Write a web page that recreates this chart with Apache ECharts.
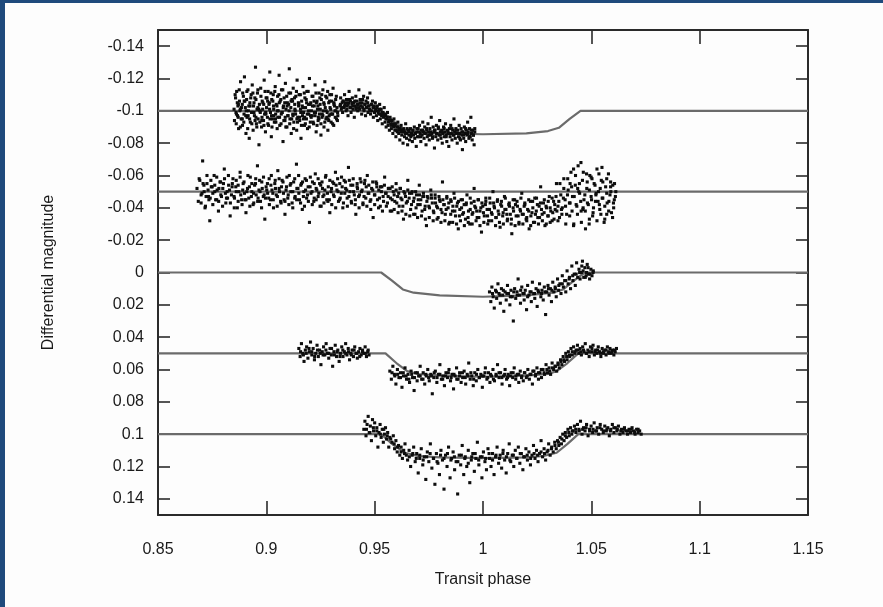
<!DOCTYPE html>
<html><head><meta charset="utf-8">
<script src="https://cdn.jsdelivr.net/npm/echarts@6/dist/echarts.min.js"></script>
<style>html,body{margin:0;padding:0;background:#fdfdfd}#c{width:883px;height:607px}</style>
</head><body><div id="c"></div>
<script>
// ---- axis ticks ----
const yTickValues = [-0.14,-0.12,-0.1,-0.08,-0.06,-0.04,-0.02,0,0.02,0.04,0.06,0.08,0.1,0.12,0.14];
const xRange = [0.85, 1.15];
const yRange = [-0.15, 0.15];

// ---- model transit curves ----
const model1 = [[0.85,-0.1],[0.953,-0.1],[0.958,-0.0945],[0.963,-0.0885],[0.968,-0.0868],[0.98,-0.086],[1.0,-0.0855],[1.02,-0.086],[1.03,-0.0875],[1.035,-0.0895],[1.04,-0.095],[1.045,-0.1],[1.15,-0.1]];
const model2 = [[0.85,-0.05],[1.15,-0.05]];
const model3 = [[0.85,0],[0.953,0],[0.958,0.005],[0.963,0.0105],[0.968,0.0125],[0.98,0.0142],[1.0,0.015],[1.02,0.0142],[1.032,0.0125],[1.037,0.0105],[1.042,0.005],[1.047,0],[1.15,0]];
const model4 = [[0.85,0.05],[0.955,0.05],[0.96,0.056],[0.965,0.061],[0.97,0.0628],[0.98,0.0638],[1.0,0.0645],[1.02,0.0638],[1.03,0.0628],[1.034,0.061],[1.039,0.056],[1.044,0.05],[1.15,0.05]];
const model5 = [[0.85,0.1],[0.953,0.1],[0.958,0.106],[0.964,0.1115],[0.97,0.1135],[0.98,0.1143],[1.0,0.1148],[1.02,0.1143],[1.028,0.1135],[1.034,0.1115],[1.039,0.106],[1.044,0.1],[1.15,0.1]];

// ---- observations (phase, differential magnitude) ----
const obs1a = [[0.8851,-0.101],[0.8853,-0.094],[0.8858,-0.108],[0.8860,-0.099],[0.8863,-0.112],[0.8867,-0.097],[0.8869,-0.103],[0.8872,-0.089],[0.8876,-0.106],[0.8878,-0.100],
[0.8881,-0.118],[0.8884,-0.095],[0.8889,-0.104],[0.8890,-0.091],[0.8894,-0.109],[0.8897,-0.098],[0.8899,-0.121],[0.8903,-0.102],[0.8906,-0.086],[0.8909,-0.107],
[0.8911,-0.096],[0.8915,-0.113],[0.8917,-0.100],[0.8921,-0.083],[0.8924,-0.105],[0.8926,-0.093],[0.8930,-0.110],[0.8932,-0.099],[0.8935,-0.116],[0.8939,-0.088],
[0.8941,-0.103],[0.8945,-0.097],[0.8947,-0.108],[0.8950,-0.127],[0.8954,-0.092],[0.8957,-0.101],[0.8959,-0.111],[0.8962,-0.095],[0.8966,-0.079],[0.8968,-0.104],
[0.8972,-0.099],[0.8974,-0.114],[0.8978,-0.090],[0.8981,-0.106],[0.8983,-0.101],[0.8987,-0.094],[0.8990,-0.119],[0.8992,-0.098],[0.8996,-0.087],[0.8999,-0.108],
[0.9001,-0.102],[0.9005,-0.096],[0.9008,-0.112],[0.9010,-0.091],[0.9014,-0.105],[0.9016,-0.124],[0.9019,-0.099],[0.9023,-0.084],[0.9025,-0.107],[0.9028,-0.095],
[0.9032,-0.110],[0.9034,-0.101],[0.9037,-0.093],[0.9041,-0.115],[0.9043,-0.098],[0.9046,-0.104],[0.9050,-0.089],[0.9052,-0.109],[0.9055,-0.100],[0.9059,-0.122],
[0.9061,-0.096],[0.9064,-0.106],[0.9068,-0.092],[0.9070,-0.113],[0.9073,-0.099],[0.9077,-0.081],[0.9079,-0.103],[0.9082,-0.108],[0.9086,-0.094],[0.9088,-0.117],
[0.9091,-0.101],[0.9095,-0.090],[0.9097,-0.105],[0.9100,-0.097],[0.9104,-0.111],[0.9106,-0.126],[0.9109,-0.095],[0.9113,-0.102],[0.9115,-0.086],[0.9118,-0.107],
[0.9122,-0.098],[0.9124,-0.114],[0.9127,-0.093],[0.9131,-0.104],[0.9133,-0.100],[0.9136,-0.109],[0.9140,-0.088],[0.9142,-0.119],[0.9145,-0.096],[0.9149,-0.103],
[0.9151,-0.110],[0.9154,-0.094],[0.9158,-0.101],[0.9160,-0.083],[0.9163,-0.106],[0.9167,-0.097],[0.9169,-0.115],[0.9172,-0.099],[0.9176,-0.091],[0.9178,-0.108],
[0.9181,-0.102],[0.9185,-0.095],[0.9187,-0.112],[0.9190,-0.089],[0.9194,-0.104],[0.9196,-0.098],[0.9199,-0.120],[0.9203,-0.093],[0.9205,-0.105],[0.9208,-0.100],
[0.9212,-0.097],[0.9215,-0.109],[0.9218,-0.092],[0.9221,-0.103],[0.9225,-0.116],[0.9227,-0.099],[0.9230,-0.087],[0.9234,-0.106],[0.9236,-0.101],[0.9239,-0.094],
[0.9243,-0.111],[0.9245,-0.098],[0.9248,-0.104],[0.9252,-0.085],[0.9254,-0.107],[0.9257,-0.096],[0.9261,-0.113],[0.9263,-0.100],[0.9266,-0.090],[0.9270,-0.118],
[0.9272,-0.102],[0.9275,-0.095],[0.9279,-0.108],[0.9281,-0.099],[0.9284,-0.088],[0.9288,-0.105],[0.9290,-0.097],[0.9293,-0.110],[0.9297,-0.101],[0.9299,-0.093],
[0.9302,-0.106],[0.9306,-0.098],[0.9308,-0.114],[0.9311,-0.091],[0.9315,-0.103],[0.9317,-0.100],[0.9320,-0.107],[0.9324,-0.095],[0.9326,-0.102],[0.9329,-0.099],
[0.8856,-0.110],[0.8861,-0.092],[0.8866,-0.105],[0.8870,-0.096],[0.8875,-0.113],[0.8880,-0.090],[0.8885,-0.102],[0.8891,-0.111],[0.8896,-0.093],[0.8901,-0.106],
[0.8905,-0.097],[0.8910,-0.112],[0.8914,-0.089],[0.8919,-0.103],[0.8923,-0.095],[0.8928,-0.108],[0.8933,-0.092],[0.8938,-0.111],[0.8943,-0.099],[0.8948,-0.094],
[0.8952,-0.107],[0.8956,-0.090],[0.8961,-0.113],[0.8965,-0.101],[0.8970,-0.093],[0.8975,-0.109],[0.8980,-0.096],[0.8984,-0.105],[0.8989,-0.091],[0.8994,-0.112],
[0.8998,-0.098],[0.9003,-0.108],[0.9007,-0.092],[0.9012,-0.104],[0.9017,-0.095],[0.9021,-0.111],[0.9026,-0.090],[0.9030,-0.106],[0.9035,-0.097],[0.9039,-0.112],
[0.9044,-0.093],[0.9049,-0.103],[0.9053,-0.096],[0.9058,-0.110],[0.9062,-0.091],[0.9067,-0.107],[0.9072,-0.099],[0.9076,-0.113],[0.9081,-0.094],[0.9085,-0.105],
[0.9090,-0.090],[0.9094,-0.109],[0.9099,-0.097],[0.9103,-0.104],[0.9108,-0.092],[0.9112,-0.111],[0.9117,-0.095],[0.9121,-0.106],[0.9126,-0.089],[0.9130,-0.108],
[0.9135,-0.098],[0.9139,-0.112],[0.9144,-0.093],[0.9148,-0.105],[0.9153,-0.096],[0.9157,-0.110],[0.9162,-0.091],[0.9166,-0.103],[0.9171,-0.095],[0.9175,-0.111],
[0.9180,-0.092],[0.9184,-0.107],[0.9189,-0.098],[0.9193,-0.112],[0.9198,-0.090],[0.9202,-0.104],[0.9207,-0.096],[0.9211,-0.109],[0.9216,-0.093],[0.9220,-0.106],
[0.9225,-0.097],[0.9229,-0.111],[0.9234,-0.091],[0.9238,-0.103],[0.9243,-0.095],[0.9247,-0.108],[0.9252,-0.092],[0.9256,-0.110],[0.9261,-0.097],[0.9265,-0.105],
[0.9270,-0.093],[0.9274,-0.109],[0.9279,-0.096],[0.9283,-0.112],[0.9288,-0.094],[0.9292,-0.106],[0.9297,-0.098],[0.9301,-0.110],[0.9306,-0.092],[0.9312,-0.105],
[0.9318,-0.096],[0.9323,-0.109],[0.9328,-0.094]];

const obs1b = [[0.9340,-0.103],[0.9343,-0.108],[0.9346,-0.101],[0.9350,-0.105],[0.9352,-0.099],[0.9355,-0.106],[0.9359,-0.102],[0.9361,-0.110],[0.9364,-0.104],[0.9368,-0.100],
[0.9370,-0.107],[0.9373,-0.103],[0.9377,-0.097],[0.9379,-0.105],[0.9382,-0.112],[0.9386,-0.102],[0.9388,-0.106],[0.9391,-0.099],[0.9395,-0.104],[0.9397,-0.108],
[0.9400,-0.101],[0.9404,-0.105],[0.9406,-0.096],[0.9409,-0.103],[0.9413,-0.109],[0.9415,-0.102],[0.9418,-0.106],[0.9422,-0.100],[0.9424,-0.104],[0.9427,-0.113],
[0.9431,-0.101],[0.9433,-0.107],[0.9436,-0.103],[0.9440,-0.098],[0.9442,-0.105],[0.9445,-0.102],[0.9449,-0.109],[0.9451,-0.100],[0.9454,-0.104],[0.9458,-0.097],
[0.9460,-0.106],[0.9463,-0.102],[0.9467,-0.108],[0.9469,-0.099],[0.9472,-0.103],[0.9476,-0.101],[0.9478,-0.111],[0.9481,-0.098],[0.9485,-0.104],[0.9487,-0.100],
[0.9490,-0.106],[0.9494,-0.096],[0.9496,-0.102],[0.9499,-0.099],[0.9503,-0.105],[0.9505,-0.101],[0.9508,-0.097],[0.9512,-0.103],[0.9514,-0.094],[0.9517,-0.100],
[0.9521,-0.098],[0.9523,-0.104],[0.9526,-0.095],[0.9530,-0.101],[0.9532,-0.097],[0.9535,-0.092],[0.9539,-0.099],[0.9541,-0.096],[0.9544,-0.102],[0.9548,-0.093],
[0.9550,-0.097],[0.9553,-0.090],[0.9557,-0.095],[0.9559,-0.099],[0.9562,-0.091],[0.9566,-0.094],[0.9568,-0.088],[0.9571,-0.096],[0.9575,-0.092],[0.9577,-0.089],
[0.9580,-0.094],[0.9584,-0.086],[0.9586,-0.091],[0.9589,-0.095],[0.9593,-0.088],[0.9595,-0.092],[0.9598,-0.084],[0.9602,-0.090],[0.9604,-0.087],[0.9607,-0.093],
[0.9611,-0.086],[0.9613,-0.089],[0.9616,-0.082],[0.9620,-0.088],[0.9622,-0.091],[0.9625,-0.085],[0.9629,-0.087],[0.9631,-0.080],[0.9634,-0.089],[0.9638,-0.084],
[0.9640,-0.087],[0.9643,-0.092],[0.9647,-0.083],[0.9649,-0.086],[0.9652,-0.079],[0.9656,-0.088],[0.9658,-0.085],[0.9661,-0.082],[0.9665,-0.089],[0.9667,-0.084],
[0.9670,-0.086],[0.9674,-0.081],[0.9676,-0.088],[0.9679,-0.085],[0.9683,-0.090],[0.9685,-0.083],[0.9688,-0.086],[0.9692,-0.078],[0.9694,-0.087],[0.9697,-0.084],
[0.9701,-0.089],[0.9704,-0.084],[0.9707,-0.091],[0.9710,-0.086],[0.9713,-0.081],[0.9716,-0.088],[0.9719,-0.085],[0.9722,-0.093],[0.9725,-0.087],[0.9728,-0.083],
[0.9731,-0.090],[0.9734,-0.086],[0.9737,-0.079],[0.9740,-0.088],[0.9743,-0.084],[0.9746,-0.092],[0.9749,-0.087],[0.9752,-0.082],[0.9755,-0.089],[0.9758,-0.085],
[0.9761,-0.096],[0.9764,-0.086],[0.9767,-0.083],[0.9770,-0.090],[0.9773,-0.087],[0.9776,-0.077],[0.9779,-0.088],[0.9782,-0.084],[0.9785,-0.091],[0.9788,-0.086],
[0.9791,-0.082],[0.9794,-0.089],[0.9797,-0.085],[0.9800,-0.094],[0.9803,-0.087],[0.9806,-0.083],[0.9809,-0.088],[0.9812,-0.080],[0.9815,-0.086],[0.9818,-0.090],
[0.9821,-0.084],[0.9824,-0.087],[0.9827,-0.092],[0.9830,-0.085],[0.9833,-0.081],[0.9836,-0.088],[0.9839,-0.086],[0.9842,-0.078],[0.9845,-0.089],[0.9848,-0.084],
[0.9851,-0.091],[0.9854,-0.086],[0.9857,-0.082],[0.9860,-0.088],[0.9863,-0.085],[0.9866,-0.095],[0.9869,-0.087],[0.9872,-0.083],[0.9875,-0.089],[0.9878,-0.086],
[0.9881,-0.080],[0.9884,-0.088],[0.9887,-0.084],[0.9890,-0.091],[0.9893,-0.086],[0.9896,-0.082],[0.9899,-0.089],[0.9902,-0.085],[0.9905,-0.076],[0.9908,-0.087],
[0.9911,-0.083],[0.9914,-0.090],[0.9917,-0.086],[0.9920,-0.081],[0.9923,-0.088],[0.9926,-0.085],[0.9929,-0.093],[0.9932,-0.087],[0.9935,-0.083],[0.9938,-0.089],
[0.9941,-0.084],[0.9944,-0.096],[0.9947,-0.086],[0.9950,-0.082],[0.9953,-0.088],[0.9956,-0.085],[0.9959,-0.079],[0.9962,-0.087]];

const obs1core = [[0.8862,-0.098],[0.8871,-0.104],[0.8880,-0.101],[0.8889,-0.095],[0.8898,-0.106],[0.8907,-0.100],[0.8916,-0.097],[0.8925,-0.103],[0.8934,-0.099],[0.8943,-0.105],
[0.8952,-0.096],[0.8961,-0.102],[0.8970,-0.100],[0.8979,-0.094],[0.8988,-0.104],[0.8997,-0.099],[0.9006,-0.106],[0.9015,-0.101],[0.9024,-0.097],[0.9033,-0.103],
[0.9042,-0.095],[0.9051,-0.100],[0.9060,-0.105],[0.9069,-0.098],[0.9078,-0.102],[0.9087,-0.096],[0.9096,-0.103],[0.9105,-0.100],[0.9114,-0.106],[0.9123,-0.097],
[0.9132,-0.101],[0.9141,-0.095],[0.9150,-0.104],[0.9159,-0.099],[0.9168,-0.102],[0.9177,-0.096],[0.9186,-0.105],[0.9195,-0.100],[0.9204,-0.097],[0.9213,-0.103],
[0.9222,-0.099],[0.9231,-0.105],[0.9240,-0.096],[0.9249,-0.101],[0.9258,-0.098],[0.9267,-0.104],[0.9276,-0.100],[0.9285,-0.095],[0.9294,-0.102],[0.9303,-0.098],
[0.9312,-0.104],[0.9321,-0.100],[0.9330,-0.097],
[0.9342,-0.104],[0.9348,-0.102],[0.9354,-0.106],[0.9360,-0.103],[0.9366,-0.105],[0.9372,-0.101],[0.9378,-0.104],[0.9384,-0.107],[0.9390,-0.102],[0.9396,-0.105],
[0.9402,-0.103],[0.9408,-0.106],[0.9414,-0.101],[0.9420,-0.104],[0.9426,-0.102],[0.9432,-0.105],[0.9438,-0.103],[0.9444,-0.107],[0.9450,-0.101],[0.9456,-0.104],
[0.9462,-0.102],[0.9468,-0.105],[0.9474,-0.103],[0.9480,-0.100],[0.9486,-0.104],[0.9492,-0.102],[0.9498,-0.103],[0.9504,-0.100],[0.9510,-0.102],[0.9516,-0.099],
[0.9522,-0.101],[0.9528,-0.098],[0.9534,-0.099],[0.9540,-0.097],[0.9546,-0.098],[0.9552,-0.095],[0.9558,-0.096],[0.9564,-0.093],[0.9570,-0.094],[0.9576,-0.091],
[0.9582,-0.092],[0.9588,-0.090],[0.9594,-0.091],[0.9600,-0.088],[0.9606,-0.090],[0.9612,-0.088],[0.9618,-0.089],[0.9624,-0.087],
[0.9632,-0.088],[0.9641,-0.086],[0.9650,-0.089],[0.9659,-0.087],[0.9668,-0.085],[0.9677,-0.088],[0.9686,-0.086],[0.9695,-0.089],[0.9704,-0.087],[0.9713,-0.084],
[0.9722,-0.088],[0.9731,-0.086],[0.9740,-0.089],[0.9749,-0.085],[0.9758,-0.087],[0.9767,-0.084],[0.9776,-0.088],[0.9785,-0.086],[0.9794,-0.090],[0.9803,-0.085],
[0.9812,-0.087],[0.9821,-0.089],[0.9830,-0.084],[0.9839,-0.087],[0.9848,-0.086],[0.9857,-0.089],[0.9866,-0.085],[0.9875,-0.088],[0.9884,-0.086],[0.9893,-0.083],
[0.9902,-0.087],[0.9911,-0.085],[0.9920,-0.089],[0.9929,-0.086],[0.9938,-0.084],[0.9947,-0.088],[0.9956,-0.085],[0.9962,-0.089]];

const obs2 = [[0.8680,-0.052],[0.8686,-0.044],[0.8693,-0.057],[0.8699,-0.048],[0.8706,-0.069],[0.8713,-0.050],[0.8719,-0.041],[0.8726,-0.055],[0.8733,-0.047],[0.8739,-0.032],
[0.8746,-0.053],[0.8753,-0.049],[0.8759,-0.060],[0.8766,-0.045],[0.8773,-0.051],[0.8779,-0.038],[0.8786,-0.056],[0.8793,-0.047],[0.8799,-0.052],[0.8806,-0.064],
[0.8813,-0.043],[0.8819,-0.050],[0.8826,-0.054],[0.8833,-0.035],[0.8839,-0.048],[0.8846,-0.058],[0.8853,-0.046],[0.8859,-0.053],[0.8866,-0.040],[0.8873,-0.050],
[0.8879,-0.062],[0.8886,-0.045],[0.8893,-0.055],[0.8899,-0.049],[0.8906,-0.037],[0.8913,-0.052],[0.8919,-0.046],[0.8926,-0.059],[0.8933,-0.050],[0.8939,-0.042],
[0.8946,-0.054],[0.8953,-0.048],[0.8959,-0.066],[0.8966,-0.051],[0.8973,-0.044],[0.8979,-0.056],[0.8986,-0.047],[0.8993,-0.033],[0.8999,-0.053],
[0.9006,-0.049],[0.9013,-0.058],[0.9019,-0.045],[0.9026,-0.051],[0.9033,-0.040],[0.9039,-0.055],[0.9046,-0.048],[0.9053,-0.063],[0.9059,-0.052],[0.9066,-0.044],
[0.9073,-0.057],[0.9079,-0.049],[0.9086,-0.036],[0.9093,-0.053],[0.9099,-0.046],[0.9106,-0.060],[0.9113,-0.050],[0.9119,-0.043],[0.9126,-0.056],[0.9133,-0.047],
[0.9139,-0.067],[0.9146,-0.052],[0.9153,-0.045],[0.9159,-0.054],[0.9166,-0.039],[0.9173,-0.050],[0.9179,-0.058],[0.9186,-0.046],[0.9193,-0.053],[0.9199,-0.031],
[0.9206,-0.049],[0.9213,-0.056],[0.9219,-0.044],[0.9226,-0.061],[0.9233,-0.051],[0.9239,-0.047],[0.9246,-0.055],[0.9253,-0.041],[0.9259,-0.052],[0.9266,-0.048],
[0.9273,-0.059],[0.9279,-0.045],[0.9286,-0.053],[0.9293,-0.037],[0.9299,-0.050],
[0.9306,-0.056],[0.9313,-0.047],[0.9319,-0.062],[0.9326,-0.051],[0.9333,-0.044],[0.9339,-0.055],[0.9346,-0.049],[0.9353,-0.040],[0.9359,-0.057],[0.9366,-0.052],
[0.9373,-0.046],[0.9379,-0.065],[0.9386,-0.050],[0.9393,-0.043],[0.9399,-0.054],[0.9406,-0.048],[0.9413,-0.036],[0.9419,-0.053],[0.9426,-0.047],[0.9433,-0.058],
[0.9439,-0.050],[0.9446,-0.042],[0.9453,-0.055],[0.9459,-0.046],[0.9466,-0.060],[0.9473,-0.049],[0.9479,-0.044],[0.9486,-0.052],[0.9493,-0.034],[0.9499,-0.048],
[0.9506,-0.056],[0.9513,-0.045],[0.9519,-0.051],[0.9526,-0.041],[0.9533,-0.053],[0.9539,-0.047],[0.9546,-0.059],[0.9553,-0.049],[0.9559,-0.043],[0.9566,-0.052],
[0.9573,-0.046],[0.9579,-0.038],[0.9586,-0.050],[0.9593,-0.044],
[0.9599,-0.055],[0.9606,-0.047],[0.9613,-0.041],[0.9619,-0.052],[0.9626,-0.045],[0.9633,-0.033],[0.9639,-0.049],[0.9646,-0.043],[0.9653,-0.057],[0.9659,-0.046],
[0.9666,-0.039],[0.9673,-0.050],[0.9679,-0.044],[0.9686,-0.036],[0.9693,-0.048],[0.9699,-0.042],[0.9706,-0.054],[0.9713,-0.045],[0.9719,-0.038],[0.9726,-0.047],
[0.9733,-0.041],[0.9739,-0.029],[0.9746,-0.046],[0.9753,-0.040],[0.9759,-0.051],[0.9766,-0.043],[0.9773,-0.037],[0.9779,-0.048],[0.9786,-0.041],[0.9793,-0.034],
[0.9799,-0.045],[0.9806,-0.039],[0.9813,-0.056],[0.9819,-0.042],[0.9826,-0.036],[0.9833,-0.047],[0.9839,-0.040],[0.9846,-0.031],
[0.9853,-0.044],[0.9859,-0.038],[0.9866,-0.049],[0.9873,-0.035],[0.9879,-0.041],[0.9886,-0.027],[0.9893,-0.039],[0.9899,-0.045],[0.9906,-0.036],[0.9913,-0.042],
[0.9919,-0.033],[0.9926,-0.048],[0.9933,-0.038],[0.9939,-0.030],[0.9946,-0.043],[0.9953,-0.037],[0.9959,-0.052],[0.9966,-0.040],[0.9973,-0.034],[0.9979,-0.045],
[0.9986,-0.038],[0.9993,-0.025],[0.9999,-0.041],[1.0006,-0.035],[1.0013,-0.046],[1.0019,-0.039],[1.0026,-0.032],[1.0033,-0.043],[1.0039,-0.037],[1.0046,-0.050],
[1.0053,-0.040],[1.0059,-0.034],[1.0066,-0.044],[1.0073,-0.036],[1.0079,-0.028],[1.0086,-0.041],[1.0093,-0.037],[1.0099,-0.047],[1.0106,-0.039],[1.0113,-0.033],
[1.0119,-0.042],[1.0126,-0.036],[1.0133,-0.024],[1.0139,-0.040],[1.0146,-0.045],[1.0153,-0.035],[1.0159,-0.041],[1.0166,-0.030],[1.0173,-0.038],[1.0179,-0.049],
[1.0186,-0.036],[1.0193,-0.042],[1.0199,-0.033],[1.0206,-0.039],[1.0213,-0.027],[1.0219,-0.044],[1.0226,-0.037],[1.0233,-0.031],[1.0239,-0.046],[1.0246,-0.038],
[1.0253,-0.034],[1.0259,-0.041],[1.0266,-0.053],[1.0273,-0.036],[1.0279,-0.043],[1.0286,-0.029],[1.0293,-0.040],[1.0299,-0.035],[1.0306,-0.047],[1.0313,-0.038],
[1.0319,-0.032],[1.0326,-0.044],[1.0333,-0.039],[1.0339,-0.055],[1.0346,-0.041],
[1.0353,-0.034],[1.0359,-0.048],[1.0366,-0.040],[1.0373,-0.058],[1.0379,-0.045],[1.0386,-0.036],[1.0393,-0.051],[1.0399,-0.043],[1.0406,-0.062],[1.0413,-0.047],
[1.0419,-0.030],[1.0426,-0.054],[1.0433,-0.041],[1.0439,-0.066],[1.0446,-0.049],[1.0453,-0.038],[1.0459,-0.057],[1.0466,-0.045],[1.0473,-0.027],[1.0479,-0.052],
[1.0486,-0.042],[1.0493,-0.060],[1.0499,-0.047],[1.0506,-0.035],[1.0513,-0.055],[1.0519,-0.044],[1.0526,-0.064],[1.0533,-0.050],[1.0539,-0.039],[1.0546,-0.057],
[1.0553,-0.046],[1.0559,-0.031],[1.0566,-0.053],[1.0573,-0.043],[1.0579,-0.061],[1.0586,-0.048],[1.0593,-0.037],[1.0599,-0.054],[1.0606,-0.045],[1.0613,-0.050],
[1.0402,-0.055],[1.0418,-0.064],[1.0437,-0.052],[1.0452,-0.068],[1.0462,-0.040],[1.0478,-0.061],[1.0491,-0.033],[1.0503,-0.058],[1.0521,-0.048],[1.0537,-0.042],
[1.0549,-0.065],[1.0571,-0.036],[1.0589,-0.056],[1.0603,-0.040]];

const obs2core = [[0.8703,-0.049],[0.8712,-0.054],[0.8722,-0.047],[0.8731,-0.051],[0.8741,-0.046],[0.8750,-0.053],[0.8762,-0.050],[0.8771,-0.045],[0.8781,-0.052],[0.8790,-0.048],
[0.8802,-0.055],[0.8811,-0.049],[0.8821,-0.046],[0.8830,-0.051],[0.8842,-0.053],[0.8851,-0.047],[0.8861,-0.050],[0.8870,-0.054],[0.8882,-0.048],[0.8891,-0.051],
[0.8901,-0.045],[0.8910,-0.050],[0.8922,-0.053],[0.8931,-0.047],[0.8941,-0.049],[0.8950,-0.055],[0.8962,-0.046],[0.8971,-0.050],[0.8981,-0.052],[0.8990,-0.048],
[0.9002,-0.051],[0.9011,-0.046],[0.9021,-0.054],[0.9030,-0.049],[0.9042,-0.052],[0.9051,-0.047],[0.9061,-0.050],[0.9070,-0.053],[0.9082,-0.045],[0.9091,-0.051],
[0.9101,-0.048],[0.9110,-0.054],[0.9122,-0.050],[0.9131,-0.046],[0.9141,-0.052],[0.9150,-0.049],[0.9162,-0.055],[0.9171,-0.047],[0.9181,-0.051],[0.9190,-0.048],
[0.9202,-0.053],[0.9211,-0.050],[0.9221,-0.046],[0.9230,-0.052],[0.9242,-0.049],[0.9251,-0.054],[0.9261,-0.047],[0.9270,-0.051],[0.9282,-0.049],[0.9291,-0.045],
[0.9301,-0.052],[0.9310,-0.048],[0.9322,-0.054],[0.9331,-0.050],[0.9341,-0.046],[0.9350,-0.053],[0.9362,-0.049],[0.9371,-0.051],[0.9381,-0.047],[0.9390,-0.054],
[0.9402,-0.050],[0.9411,-0.045],[0.9421,-0.052],[0.9430,-0.048],[0.9442,-0.051],[0.9451,-0.047],[0.9461,-0.053],[0.9470,-0.049],[0.9482,-0.045],[0.9491,-0.051],
[0.9501,-0.048],[0.9510,-0.053],[0.9522,-0.046],[0.9531,-0.050],[0.9541,-0.044],[0.9550,-0.049],[0.9562,-0.047],[0.9571,-0.052],[0.9581,-0.045],[0.9590,-0.048],
[0.9602,-0.043],[0.9611,-0.049],[0.9621,-0.046],[0.9630,-0.041],[0.9642,-0.047],[0.9651,-0.044],[0.9661,-0.049],[0.9670,-0.042],[0.9682,-0.046],[0.9691,-0.040],
[0.9701,-0.045],[0.9710,-0.042],[0.9722,-0.047],[0.9731,-0.039],[0.9741,-0.044],[0.9750,-0.041],[0.9762,-0.046],[0.9771,-0.038],[0.9781,-0.043],[0.9790,-0.040],
[0.9802,-0.044],[0.9811,-0.037],[0.9821,-0.042],[0.9830,-0.039],[0.9842,-0.043],[0.9851,-0.036],[0.9861,-0.041],[0.9870,-0.038],[0.9882,-0.043],[0.9891,-0.035],
[0.9901,-0.040],[0.9910,-0.037],[0.9922,-0.042],[0.9931,-0.034],[0.9941,-0.039],[0.9950,-0.036],[0.9962,-0.041],[0.9971,-0.038],[0.9981,-0.034],[0.9990,-0.040],
[1.0002,-0.037],[1.0011,-0.042],[1.0021,-0.035],[1.0030,-0.039],[1.0042,-0.036],[1.0051,-0.041],[1.0061,-0.034],[1.0070,-0.038],[1.0082,-0.042],[1.0091,-0.035],
[1.0101,-0.039],[1.0110,-0.036],[1.0122,-0.041],[1.0131,-0.033],[1.0141,-0.038],[1.0150,-0.042],[1.0162,-0.035],[1.0171,-0.039],[1.0181,-0.036],[1.0190,-0.041],
[1.0202,-0.034],[1.0211,-0.038],[1.0221,-0.035],[1.0230,-0.040],[1.0242,-0.036],[1.0251,-0.042],[1.0261,-0.034],[1.0270,-0.039],[1.0282,-0.037],[1.0291,-0.041],
[1.0301,-0.035],[1.0310,-0.040],[1.0322,-0.037],[1.0331,-0.042],[1.0341,-0.038],[1.0350,-0.044],[1.0362,-0.039],[1.0371,-0.046],[1.0381,-0.041],[1.0390,-0.048],
[1.0402,-0.043],[1.0411,-0.038],[1.0421,-0.047],[1.0430,-0.042],[1.0442,-0.050],[1.0451,-0.044],[1.0461,-0.039],[1.0470,-0.048],[1.0482,-0.043],[1.0491,-0.051],
[1.0501,-0.045],[1.0510,-0.040],[1.0522,-0.049],[1.0531,-0.044],[1.0541,-0.052],[1.0550,-0.046],[1.0562,-0.041],[1.0571,-0.049],[1.0581,-0.044],[1.0590,-0.050],
[1.0602,-0.043],[1.0611,-0.047],
[0.8690,-0.058],[0.8699,-0.043],[0.8708,-0.055],[0.8717,-0.040],[0.8726,-0.060],[0.8735,-0.045],[0.8744,-0.057],[0.8753,-0.042],[0.8762,-0.054],[0.8771,-0.059],
[0.8780,-0.044],[0.8789,-0.056],[0.8798,-0.041],[0.8807,-0.058],[0.8816,-0.046],[0.8825,-0.060],[0.8834,-0.043],[0.8843,-0.055],[0.8852,-0.040],[0.8861,-0.057],
[0.8870,-0.044],[0.8879,-0.059],[0.8888,-0.042],[0.8897,-0.056],[0.8906,-0.045],[0.8915,-0.060],[0.8924,-0.041],[0.8933,-0.055],[0.8942,-0.043],[0.8951,-0.058],
[0.8960,-0.044],[0.8969,-0.057],[0.8978,-0.040],[0.8987,-0.059],[0.8996,-0.046],[0.9005,-0.055],[0.9014,-0.042],[0.9023,-0.060],[0.9032,-0.045],[0.9041,-0.057],
[0.9050,-0.041],[0.9059,-0.058],[0.9068,-0.043],[0.9077,-0.056],[0.9086,-0.044],[0.9095,-0.059],[0.9104,-0.042],[0.9113,-0.055],[0.9122,-0.040],[0.9131,-0.058],
[0.9140,-0.045],[0.9149,-0.060],[0.9158,-0.043],[0.9167,-0.056],[0.9176,-0.041],[0.9185,-0.057],[0.9194,-0.044],[0.9203,-0.059],[0.9212,-0.042],[0.9221,-0.055],
[0.9230,-0.045],[0.9239,-0.058],[0.9248,-0.041],[0.9257,-0.056],[0.9266,-0.043],[0.9275,-0.060],[0.9284,-0.044],[0.9293,-0.057],[0.9302,-0.042],[0.9311,-0.055],
[0.9320,-0.040],[0.9329,-0.058],[0.9338,-0.045],[0.9347,-0.059],[0.9356,-0.043],[0.9365,-0.056],[0.9374,-0.041],[0.9383,-0.057],[0.9392,-0.044],[0.9401,-0.058],
[0.9410,-0.042],[0.9419,-0.055],[0.9428,-0.040],[0.9437,-0.056],[0.9446,-0.043],[0.9455,-0.057],[0.9464,-0.041],[0.9473,-0.054],[0.9482,-0.039],[0.9491,-0.056],
[0.9500,-0.042],[0.9509,-0.055],[0.9518,-0.040],[0.9527,-0.053],[0.9536,-0.038],[0.9545,-0.054],[0.9554,-0.041],[0.9563,-0.052],[0.9572,-0.038],[0.9581,-0.053],
[0.9590,-0.039],[0.9599,-0.051],[0.9608,-0.037],[0.9617,-0.052],[0.9626,-0.038],[0.9635,-0.050],[0.9644,-0.036],[0.9653,-0.051],[0.9662,-0.035],[0.9671,-0.049],
[0.9680,-0.036],[0.9689,-0.050],[0.9698,-0.034],[0.9707,-0.048],[0.9716,-0.035],[0.9725,-0.049],[0.9734,-0.033],[0.9743,-0.047],[0.9752,-0.034],[0.9761,-0.048],
[0.9770,-0.032],[0.9779,-0.046],[0.9788,-0.033],[0.9797,-0.047],[0.9806,-0.031],[0.9815,-0.045],[0.9824,-0.032],[0.9833,-0.046],[0.9842,-0.030],[0.9851,-0.045],
[0.9860,-0.031],[0.9869,-0.046],[0.9878,-0.030],[0.9887,-0.044],[0.9896,-0.032],[0.9905,-0.045],[0.9914,-0.029],[0.9923,-0.043],[0.9932,-0.031],[0.9941,-0.046],
[0.9950,-0.030],[0.9959,-0.044],[0.9968,-0.032],[0.9977,-0.045],[0.9986,-0.029],[0.9995,-0.043],[1.0004,-0.031],[1.0013,-0.044],[1.0022,-0.030],[1.0031,-0.046],
[1.0040,-0.032],[1.0049,-0.043],[1.0058,-0.029],[1.0067,-0.045],[1.0076,-0.031],[1.0085,-0.044],[1.0094,-0.030],[1.0103,-0.046],[1.0112,-0.032],[1.0121,-0.043],
[1.0130,-0.030],[1.0139,-0.045],[1.0148,-0.029],[1.0157,-0.044],[1.0166,-0.031],[1.0175,-0.046],[1.0184,-0.030],[1.0193,-0.043],[1.0202,-0.032],[1.0211,-0.045],
[1.0220,-0.029],[1.0229,-0.044],[1.0238,-0.031],[1.0247,-0.046],[1.0256,-0.030],[1.0265,-0.043],[1.0274,-0.032],[1.0283,-0.045],[1.0292,-0.030],[1.0301,-0.044],
[1.0310,-0.031],[1.0319,-0.046],[1.0328,-0.033],[1.0337,-0.047],
[1.0346,-0.032],[1.0355,-0.055],[1.0364,-0.036],[1.0373,-0.052],[1.0382,-0.030],[1.0391,-0.058],[1.0400,-0.035],[1.0409,-0.053],[1.0418,-0.029],[1.0427,-0.060],
[1.0436,-0.036],[1.0445,-0.055],[1.0454,-0.031],[1.0463,-0.062],[1.0472,-0.038],[1.0481,-0.056],[1.0490,-0.030],[1.0499,-0.059],[1.0508,-0.037],[1.0517,-0.054],
[1.0526,-0.032],[1.0535,-0.061],[1.0544,-0.036],[1.0553,-0.056],[1.0562,-0.033],[1.0571,-0.058],[1.0580,-0.038],[1.0589,-0.053],[1.0598,-0.034],[1.0607,-0.055]];

const obs3 = [[1.0030,0.012],[1.0036,0.018],[1.0041,0.009],[1.0047,0.015],[1.0052,0.022],[1.0058,0.011],[1.0063,0.016],[1.0069,0.007],[1.0074,0.013],[1.0080,0.019],
[1.0085,0.010],[1.0091,0.014],[1.0096,0.024],[1.0102,0.012],[1.0107,0.017],[1.0113,0.008],[1.0118,0.013],[1.0124,0.020],[1.0129,0.011],[1.0135,0.015],
[1.0140,0.030],[1.0146,0.010],[1.0151,0.016],[1.0157,0.012],[1.0162,0.004],[1.0168,0.014],[1.0173,0.019],[1.0179,0.009],[1.0184,0.013],[1.0190,0.017],
[1.0195,0.011],[1.0201,0.023],[1.0206,0.008],[1.0212,0.014],[1.0217,0.012],[1.0223,0.018],[1.0228,0.006],[1.0234,0.013],[1.0239,0.016],[1.0245,0.010],
[1.0250,0.021],[1.0256,0.012],[1.0261,0.007],[1.0267,0.015],[1.0272,0.011],[1.0278,0.017],[1.0283,0.009],[1.0289,0.026],[1.0294,0.012],[1.0300,0.008],
[1.0305,0.014],[1.0311,0.010],[1.0316,0.018],[1.0322,0.006],[1.0327,0.012],[1.0333,0.009],[1.0338,0.015],[1.0344,0.004],[1.0349,0.011],[1.0355,0.007],
[1.0360,0.013],[1.0366,0.002],[1.0371,0.009],[1.0377,0.005],[1.0382,0.012],[1.0388,-0.001],[1.0393,0.007],[1.0399,0.003],[1.0404,0.010],[1.0410,-0.004],
[1.0415,0.005],[1.0421,0.001],[1.0426,0.008],[1.0432,-0.006],[1.0437,0.003],[1.0443,-0.002],[1.0448,0.004],[1.0454,0.000],[1.0459,-0.007],[1.0465,0.003],
[1.0470,-0.003],[1.0476,0.002],[1.0481,-0.005],[1.0487,0.001],[1.0492,0.004],[1.0498,-0.002],[1.0503,0.002],[1.0509,-0.001],
[1.0044,0.013],[1.0062,0.012],[1.0078,0.014],[1.0094,0.011],[1.0110,0.013],[1.0126,0.015],[1.0142,0.012],[1.0158,0.014],[1.0174,0.011],[1.0190,0.013],
[1.0206,0.015],[1.0222,0.012],[1.0238,0.013],[1.0254,0.011],[1.0270,0.013],[1.0286,0.012],[1.0302,0.010],[1.0318,0.011],[1.0334,0.010],[1.0350,0.008],
[1.0366,0.007],[1.0382,0.005],[1.0398,0.004],[1.0414,0.002],[1.0430,0.001],[1.0446,0.000],[1.0462,-0.001],[1.0478,0.000],[1.0494,0.001],[1.0508,0.000],
[1.0456,-0.004],[1.0472,0.003],[1.0485,-0.003]];

const obs4 = [[0.9150,0.047],[0.9156,0.052],[0.9162,0.044],[0.9168,0.050],[0.9174,0.055],[0.9180,0.048],[0.9186,0.046],[0.9192,0.053],[0.9198,0.049],[0.9204,0.043],
[0.9210,0.051],[0.9216,0.047],[0.9222,0.054],[0.9228,0.050],[0.9234,0.045],[0.9240,0.052],[0.9246,0.048],[0.9252,0.057],[0.9258,0.049],[0.9264,0.046],
[0.9270,0.051],[0.9276,0.044],[0.9282,0.050],[0.9288,0.053],[0.9294,0.047],[0.9300,0.051],[0.9306,0.058],[0.9312,0.049],[0.9318,0.045],[0.9324,0.052],
[0.9330,0.048],[0.9336,0.055],[0.9342,0.050],[0.9348,0.046],[0.9354,0.052],[0.9360,0.049],[0.9366,0.044],[0.9372,0.051],[0.9378,0.047],[0.9384,0.054],
[0.9390,0.050],[0.9396,0.048],[0.9402,0.052],[0.9408,0.046],[0.9414,0.050],[0.9420,0.053],[0.9426,0.049],[0.9432,0.047],[0.9438,0.051],[0.9444,0.048],
[0.9450,0.050],[0.9456,0.046],[0.9462,0.052],[0.9468,0.049],[0.9474,0.051],
[0.9570,0.061],[0.9577,0.066],[0.9584,0.058],[0.9591,0.063],[0.9598,0.069],[0.9605,0.060],[0.9612,0.065],[0.9619,0.062],[0.9626,0.071],[0.9633,0.064],
[0.9640,0.059],[0.9647,0.066],[0.9654,0.063],[0.9661,0.068],[0.9668,0.061],[0.9675,0.065],[0.9682,0.073],[0.9689,0.062],[0.9696,0.067],[0.9703,0.064],
[0.9710,0.058],[0.9717,0.066],[0.9724,0.062],[0.9731,0.069],[0.9738,0.064],[0.9745,0.060],[0.9752,0.067],[0.9759,0.063],[0.9766,0.075],[0.9773,0.065],
[0.9780,0.061],[0.9787,0.068],[0.9794,0.063],[0.9801,0.057],[0.9808,0.066],[0.9815,0.064],[0.9822,0.070],[0.9829,0.062],[0.9836,0.065],[0.9843,0.060],
[0.9850,0.067],[0.9857,0.063],[0.9864,0.072],[0.9871,0.064],[0.9878,0.059],[0.9885,0.066],[0.9892,0.062],[0.9899,0.068],[0.9906,0.065],[0.9913,0.061],
[0.9920,0.069],[0.9927,0.063],[0.9934,0.056],[0.9941,0.066],[0.9948,0.064],[0.9955,0.070],[0.9962,0.062],[0.9969,0.067],[0.9976,0.060],[0.9983,0.065],
[0.9990,0.063],[0.9997,0.071],[1.0004,0.064],[1.0011,0.059],[1.0018,0.066],[1.0025,0.062],[1.0032,0.068],[1.0039,0.064],[1.0046,0.060],[1.0053,0.067],
[1.0060,0.063],[1.0067,0.057],[1.0074,0.065],[1.0081,0.062],[1.0088,0.069],[1.0095,0.064],[1.0102,0.060],[1.0109,0.066],[1.0116,0.063],[1.0123,0.070],
[1.0130,0.062],[1.0137,0.065],[1.0144,0.059],[1.0151,0.066],[1.0158,0.063],[1.0165,0.068],[1.0172,0.061],[1.0179,0.064],[1.0186,0.067],[1.0193,0.062],
[1.0200,0.065],[1.0207,0.060],[1.0214,0.066],[1.0221,0.063],[1.0228,0.069],[1.0235,0.061],[1.0242,0.064],[1.0249,0.059],[1.0256,0.066],[1.0263,0.062],
[1.0270,0.065],[1.0277,0.060],[1.0284,0.063],[1.0291,0.057],[1.0298,0.062],[1.0305,0.059],[1.0312,0.063],[1.0319,0.056],[1.0326,0.060],[1.0333,0.058],
[1.0340,0.061],[1.0346,0.056],[1.0352,0.059],[1.0358,0.054],[1.0364,0.057],[1.0370,0.052],[1.0376,0.055],[1.0382,0.050],[1.0388,0.054],[1.0394,0.049],
[1.0400,0.052],[1.0406,0.047],[1.0412,0.051],[1.0418,0.046],[1.0424,0.050],[1.0430,0.048],[1.0436,0.045],[1.0442,0.050],
[1.0448,0.047],[1.0454,0.051],[1.0460,0.046],[1.0466,0.049],[1.0472,0.044],[1.0478,0.050],[1.0484,0.048],[1.0490,0.052],[1.0496,0.046],[1.0502,0.049],
[1.0508,0.045],[1.0514,0.051],[1.0520,0.048],[1.0526,0.050],[1.0532,0.046],[1.0538,0.049],[1.0544,0.052],[1.0550,0.047],[1.0556,0.050],[1.0562,0.048],
[1.0568,0.051],[1.0574,0.046],[1.0580,0.049],[1.0586,0.047],[1.0592,0.050],[1.0598,0.048],[1.0604,0.051],[1.0610,0.049],[1.0616,0.047],
[0.9158,0.049],[0.9171,0.051],[0.9184,0.050],[0.9197,0.047],[0.9210,0.049],[0.9223,0.052],[0.9236,0.048],[0.9249,0.050],[0.9262,0.051],[0.9275,0.048],
[0.9288,0.050],[0.9301,0.047],[0.9314,0.051],[0.9327,0.049],[0.9340,0.052],[0.9353,0.048],[0.9366,0.050],[0.9379,0.049],[0.9392,0.051],[0.9405,0.048],
[0.9418,0.050],[0.9431,0.052],[0.9444,0.049],[0.9457,0.050],[0.9470,0.048],
[0.9580,0.062],[0.9593,0.064],[0.9606,0.063],[0.9619,0.065],[0.9632,0.062],[0.9645,0.064],[0.9658,0.066],[0.9671,0.063],[0.9684,0.065],[0.9697,0.062],
[0.9710,0.064],[0.9723,0.066],[0.9736,0.063],[0.9749,0.065],[0.9762,0.064],[0.9775,0.062],[0.9788,0.065],[0.9801,0.063],[0.9814,0.066],[0.9827,0.064],
[0.9840,0.062],[0.9853,0.065],[0.9866,0.063],[0.9879,0.066],[0.9892,0.064],[0.9905,0.062],[0.9918,0.065],[0.9931,0.064],[0.9944,0.062],[0.9957,0.066],
[0.9970,0.063],[0.9983,0.065],[0.9996,0.064],[1.0009,0.062],[1.0022,0.065],[1.0035,0.063],[1.0048,0.066],[1.0061,0.064],[1.0074,0.062],[1.0087,0.065],
[1.0100,0.063],[1.0113,0.065],[1.0126,0.064],[1.0139,0.062],[1.0152,0.064],[1.0165,0.063],[1.0178,0.065],[1.0191,0.062],[1.0204,0.064],[1.0217,0.063],
[1.0230,0.061],[1.0243,0.063],[1.0256,0.062],[1.0269,0.060],[1.0282,0.062],[1.0295,0.060],[1.0308,0.061],[1.0321,0.059],[1.0334,0.058],[1.0347,0.057],
[1.0360,0.055],[1.0373,0.054],[1.0386,0.052],[1.0399,0.051],[1.0412,0.049],[1.0425,0.049],[1.0438,0.048],
[1.0451,0.049],[1.0464,0.048],[1.0477,0.050],[1.0490,0.049],[1.0503,0.047],[1.0516,0.049],[1.0529,0.048],[1.0542,0.050],[1.0555,0.049],[1.0568,0.048],
[1.0581,0.050],[1.0594,0.049],[1.0607,0.048]];

const obs5 = [[0.9450,0.097],[0.9455,0.092],[0.9460,0.101],[0.9465,0.094],[0.9470,0.089],[0.9475,0.099],[0.9480,0.095],[0.9485,0.104],[0.9490,0.091],[0.9495,0.098],
[0.9500,0.093],[0.9505,0.101],[0.9510,0.096],[0.9515,0.108],[0.9520,0.099],[0.9525,0.094],[0.9530,0.102],[0.9535,0.097],[0.9540,0.105],[0.9545,0.100],
[0.9550,0.096],[0.9555,0.103],[0.9560,0.099],[0.9565,0.108],[0.9570,0.102],
[0.9580,0.105],[0.9586,0.101],[0.9592,0.109],[0.9598,0.104],[0.9604,0.111],[0.9610,0.107],[0.9616,0.113],[0.9622,0.108],[0.9628,0.115],[0.9634,0.110],
[0.9640,0.106],[0.9646,0.113],
[0.9652,0.116],[0.9659,0.110],[0.9666,0.120],[0.9673,0.113],[0.9680,0.108],[0.9687,0.117],[0.9694,0.112],[0.9701,0.124],[0.9708,0.115],[0.9715,0.109],
[0.9722,0.119],[0.9729,0.114],[0.9736,0.128],[0.9743,0.111],[0.9750,0.117],[0.9757,0.106],[0.9764,0.121],[0.9771,0.115],[0.9778,0.131],[0.9785,0.112],
[0.9792,0.118],[0.9799,0.125],[0.9806,0.110],[0.9813,0.116],[0.9820,0.134],[0.9827,0.113],[0.9834,0.120],[0.9841,0.108],[0.9848,0.127],[0.9855,0.115],
[0.9862,0.111],[0.9869,0.122],[0.9876,0.117],[0.9883,0.137],[0.9890,0.113],[0.9897,0.119],[0.9904,0.107],[0.9911,0.125],[0.9918,0.114],[0.9925,0.120],
[0.9932,0.110],[0.9939,0.130],[0.9946,0.116],[0.9953,0.112],[0.9960,0.123],[0.9967,0.115],[0.9974,0.105],[0.9981,0.119],[0.9988,0.114],[0.9995,0.127],
[1.0002,0.111],[1.0009,0.117],[1.0016,0.122],[1.0023,0.109],[1.0030,0.115],[1.0037,0.120],[1.0044,0.112],[1.0051,0.125],[1.0058,0.114],[1.0065,0.108],
[1.0072,0.118],[1.0079,0.113],[1.0086,0.121],[1.0093,0.110],[1.0100,0.116],[1.0107,0.124],[1.0114,0.112],[1.0121,0.106],[1.0128,0.117],[1.0135,0.113],
[1.0142,0.120],[1.0149,0.110],[1.0156,0.115],[1.0163,0.108],[1.0170,0.118],[1.0177,0.112],[1.0184,0.122],[1.0191,0.114],[1.0198,0.109],[1.0205,0.116],
[1.0212,0.111],[1.0219,0.119],[1.0226,0.113],[1.0233,0.107],[1.0240,0.115],[1.0247,0.110],[1.0254,0.117],[1.0261,0.112],[1.0268,0.104],[1.0275,0.114],
[1.0282,0.109],[1.0289,0.116],[1.0296,0.111],[1.0303,0.106],[1.0310,0.113],[1.0317,0.108],[1.0324,0.111],[1.0331,0.105],
[1.0338,0.109],[1.0344,0.104],[1.0350,0.107],[1.0356,0.102],[1.0362,0.106],[1.0368,0.100],[1.0374,0.104],[1.0380,0.099],[1.0386,0.102],[1.0392,0.097],
[1.0398,0.101],[1.0404,0.096],[1.0410,0.100],[1.0416,0.098],
[1.0422,0.095],[1.0429,0.099],[1.0436,0.094],[1.0443,0.097],[1.0450,0.092],[1.0457,0.100],[1.0464,0.096],[1.0471,0.098],[1.0478,0.094],[1.0485,0.101],
[1.0492,0.097],[1.0499,0.095],[1.0506,0.099],[1.0513,0.093],[1.0520,0.098],[1.0527,0.096],[1.0534,0.100],[1.0541,0.094],[1.0548,0.097],[1.0555,0.099],
[1.0562,0.095],[1.0569,0.098],[1.0576,0.096],[1.0583,0.101],[1.0590,0.097],[1.0597,0.094],[1.0604,0.099],[1.0611,0.096],[1.0618,0.098],[1.0625,0.095],
[1.0632,0.100],[1.0639,0.097],[1.0646,0.099],[1.0653,0.096],[1.0660,0.098],[1.0667,0.100],[1.0674,0.097],[1.0681,0.099],[1.0688,0.096],[1.0695,0.098],
[1.0702,0.100],[1.0709,0.097],[1.0716,0.099],[1.0723,0.098],[1.0730,0.100],
[0.9462,0.097],[0.9478,0.099],[0.9494,0.096],[0.9510,0.098],[0.9526,0.100],[0.9542,0.097],[0.9558,0.101],[0.9574,0.103],
[0.9590,0.106],[0.9606,0.108],[0.9622,0.111],[0.9638,0.112],
[0.9660,0.114],[0.9676,0.112],[0.9692,0.115],[0.9708,0.113],[0.9724,0.116],[0.9740,0.114],[0.9756,0.112],[0.9772,0.115],[0.9788,0.117],[0.9804,0.113],
[0.9820,0.115],[0.9836,0.112],[0.9852,0.116],[0.9868,0.114],[0.9884,0.117],[0.9900,0.113],[0.9916,0.115],[0.9932,0.118],[0.9948,0.114],[0.9964,0.112],
[0.9980,0.116],[0.9996,0.114],[1.0012,0.115],[1.0028,0.112],[1.0044,0.116],[1.0060,0.113],[1.0076,0.115],[1.0092,0.112],[1.0108,0.114],[1.0124,0.116],
[1.0140,0.113],[1.0156,0.115],[1.0172,0.112],[1.0188,0.114],[1.0204,0.113],[1.0220,0.115],[1.0236,0.112],[1.0252,0.113],[1.0268,0.111],[1.0284,0.112],
[1.0300,0.110],[1.0316,0.109],[1.0332,0.107],[1.0348,0.105],[1.0364,0.103],[1.0380,0.101],[1.0396,0.099],[1.0412,0.098],
[1.0428,0.097],[1.0444,0.098],[1.0460,0.097],[1.0476,0.096],[1.0492,0.098],[1.0508,0.097],[1.0524,0.098],[1.0540,0.096],[1.0556,0.098],[1.0572,0.097],
[1.0588,0.098],[1.0604,0.096],[1.0620,0.097],[1.0636,0.098],[1.0652,0.097],[1.0668,0.098],[1.0684,0.097],[1.0700,0.099],[1.0716,0.097]];

// ---- chart ----
const FONT = '"Liberation Sans", Arial, Helvetica, sans-serif';
const AXIS_COLOR = '#2a2a2a';
const TEXT_COLOR = '#1a1a1a';
const fmt = v => String(Math.round(v * 100) / 100);

function modelSeries(name, data) {
  return { type: 'line', name, data, showSymbol: false, symbol: 'none', silent: true, z: 2,
    lineStyle: { color: '#6b6b6b', width: 2.2 } };
}
function obsSeries(name, data) {
  return { type: 'scatter', name, data, symbol: 'rect', symbolSize: 3.1, silent: true, z: 3,
    itemStyle: { color: '#0d0d0d', opacity: 1 } };
}

const baseX = {
  type: 'value', min: xRange[0], max: xRange[1], interval: 0.05,
  axisLine: { show: true, onZero: false, lineStyle: { color: AXIS_COLOR, width: 2 } },
  axisTick: { show: true, inside: true, length: 14, lineStyle: { color: AXIS_COLOR, width: 1.6 } },
  splitLine: { show: false }
};
const baseY = {
  type: 'value', inverse: true, min: yRange[0], max: yRange[1],
  axisLine: { show: true, onZero: false, lineStyle: { color: AXIS_COLOR, width: 2 } },
  axisTick: { show: true, inside: true, length: 12, customValues: yTickValues, lineStyle: { color: AXIS_COLOR, width: 1.6 } },
  splitLine: { show: false }
};

const chart = echarts.init(document.getElementById('c'));
chart.setOption({
  animation: false,
  backgroundColor: '#fdfdfd',
  grid: { left: 158, right: 75, top: 30, bottom: 92, containLabel: false },
  graphic: [
    { type: 'rect', shape: { x: 0, y: 0, width: 883, height: 3 }, style: { fill: '#1f4a7c' }, silent: true },
    { type: 'rect', shape: { x: 0, y: 0, width: 5, height: 607 }, style: { fill: '#1f4a7c' }, silent: true }
  ],
  xAxis: [
    Object.assign({}, baseX, { position: 'bottom',
      axisLabel: { show: true, margin: 27, fontSize: 16, color: TEXT_COLOR, fontFamily: FONT, formatter: fmt },
      name: 'Transit phase', nameLocation: 'middle', nameGap: 57,
      nameTextStyle: { fontSize: 16, color: TEXT_COLOR, fontFamily: FONT } }),
    Object.assign({}, baseX, { position: 'top', axisLabel: { show: false } })
  ],
  yAxis: [
    Object.assign({}, baseY, { position: 'left',
      axisLabel: { show: true, margin: 14, fontSize: 16, color: TEXT_COLOR, fontFamily: FONT, customValues: yTickValues, formatter: fmt },
      name: 'Differential magnitude', nameLocation: 'middle', nameGap: 101, nameRotate: 90,
      nameTextStyle: { fontSize: 16, color: TEXT_COLOR, fontFamily: FONT } }),
    Object.assign({}, baseY, { position: 'right', axisLabel: { show: false } })
  ],
  series: [
    modelSeries('model1', model1),
    modelSeries('model2', model2),
    modelSeries('model3', model3),
    modelSeries('model4', model4),
    modelSeries('model5', model5),
    obsSeries('obs1a', obs1a),
    obsSeries('obs1b', obs1b),
    obsSeries('obs1core', obs1core),
    obsSeries('obs2', obs2),
    obsSeries('obs2core', obs2core),
    obsSeries('obs3', obs3),
    obsSeries('obs4', obs4),
    obsSeries('obs5', obs5)
  ]
});
</script></body></html>
